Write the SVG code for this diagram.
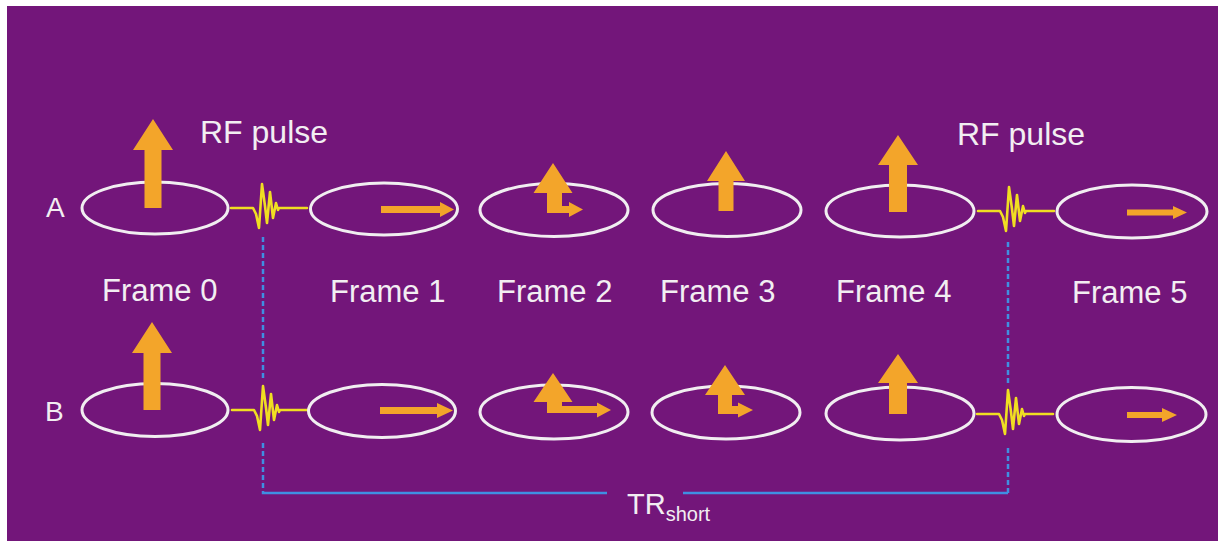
<svg xmlns="http://www.w3.org/2000/svg" width="1218" height="541" viewBox="0 0 1218 541">
  <defs>
    <style>
      .ring { fill: none; stroke: #f1eef1; stroke-width: 3; }
      .vec { fill: #f3a52a; }
      .pulse { fill: none; stroke: #f0de22; stroke-width: 2.6; stroke-linejoin: round; stroke-linecap: round; }
      .lbl { font-family: "Liberation Sans", Arial, sans-serif; fill: #f2eef2; }
      .frame { font-size: 31px; }
      .rf { font-size: 32px; }
      .row { font-size: 28px; }
      .tr { stroke: #3f8fe2; stroke-width: 2.5; fill: none; }
      .dash { stroke-dasharray: 5 3; }
    </style>
    <path id="pulse" class="pulse" d="M0,0 H22 L25,6 L28,20 L31,-24 L34,-2 L36,15 L39,-16 L42,10 L45,-5 L47,2 L48,0 H76"/>
  </defs>

  <rect x="0" y="0" width="1218" height="541" fill="#ffffff"/>
  <rect x="7" y="6" width="1211" height="535" fill="#73167a"/>

  <!-- row labels -->
  <text class="lbl row" x="46" y="217">A</text>
  <text class="lbl row" x="45" y="421">B</text>

  <!-- RF pulse labels -->
  <text class="lbl rf" x="200" y="143">RF pulse</text>
  <text class="lbl rf" x="957" y="145">RF pulse</text>

  <!-- Frame labels -->
  <g id="frame-labels">
    <text class="lbl frame" x="102" y="301">Frame 0</text>
    <text class="lbl frame" x="330" y="302">Frame 1</text>
    <text class="lbl frame" x="497" y="302">Frame 2</text>
    <text class="lbl frame" x="660" y="302">Frame 3</text>
    <text class="lbl frame" x="836" y="302">Frame 4</text>
    <text class="lbl frame" x="1072" y="303">Frame 5</text>
  </g>

  <!-- connectors: TR bracket -->
  <g id="connectors">
    <line class="tr dash" x1="263" y1="237" x2="263" y2="381"/>
    <line class="tr dash" x1="263" y1="443" x2="263" y2="492"/>
    <polyline class="tr" points="263,492 263,493 607,493"/>
    <line class="tr" x1="683" y1="493" x2="1008" y2="493"/>
    <line class="tr dash" x1="1008" y1="493" x2="1008" y2="445"/>
    <line class="tr dash" x1="1008" y1="383" x2="1008" y2="240"/>
  </g>
  <text class="lbl" x="627" y="514" font-size="29">TR<tspan font-size="20" dy="7">short</tspan></text>

  <!-- RF pulses -->
  <g id="pulse-A1"><use href="#pulse" transform="translate(231,208)"/></g>
  <g id="pulse-A2"><use href="#pulse" transform="translate(978,211)"/></g>
  <g id="pulse-B1"><use href="#pulse" transform="translate(232,410)"/></g>
  <g id="pulse-B2"><use href="#pulse" transform="translate(977,414)"/></g>

  <!-- Row A -->
  <g id="A0">
    <ellipse class="ring" cx="155" cy="208" rx="73" ry="26"/>
    <polygon class="vec" points="153,119 173,150 161.5,150 161.5,208 144.5,208 144.5,150 133,150"/>
  </g>
  <g id="A1">
    <ellipse class="ring" cx="384" cy="209" rx="73.5" ry="26"/>
    <polygon class="vec" points="381,206 440,206 440,202 454,209.5 440,217 440,213 381,213"/>
  </g>
  <g id="A2">
    <ellipse class="ring" cx="554" cy="210" rx="74" ry="26.5"/>
    <polygon class="vec" points="553,163 572.5,193 562,193 562,206 569,206 569,202 583,209.5 569,217 569,213 547,213 547,193 533.5,193"/>
  </g>
  <g id="A3">
    <ellipse class="ring" cx="727" cy="210" rx="74" ry="26.5"/>
    <polygon class="vec" points="726,151 745,181 733.5,181 733.5,211 718.5,211 718.5,181 707,181"/>
  </g>
  <g id="A4">
    <ellipse class="ring" cx="900" cy="211" rx="74" ry="26"/>
    <polygon class="vec" points="898,135 918,165 907,165 907,212 889,212 889,165 878,165"/>
  </g>
  <g id="A5">
    <ellipse class="ring" cx="1132" cy="211.5" rx="75" ry="26.5"/>
    <polygon class="vec" points="1127,209.5 1173,209.5 1173,206 1187,212.5 1173,219 1173,215.5 1127,215.5"/>
  </g>

  <!-- Row B -->
  <g id="B0">
    <ellipse class="ring" cx="155" cy="410" rx="73" ry="26.5"/>
    <polygon class="vec" points="152,322 172,353 160.5,353 160.5,410 143.5,410 143.5,353 132,353"/>
  </g>
  <g id="B1">
    <ellipse class="ring" cx="382" cy="411" rx="73.5" ry="26.5"/>
    <polygon class="vec" points="380,407 437,407 437,403 453,410.5 437,418 437,414 380,414"/>
  </g>
  <g id="B2">
    <ellipse class="ring" cx="554" cy="412" rx="74" ry="27"/>
    <polygon class="vec" points="553,373 572.5,402 562,402 562,406 597,406 597,402.5 611,410 597,417.5 597,413 547,413 547,402 533.5,402"/>
  </g>
  <g id="B3">
    <ellipse class="ring" cx="726" cy="412.5" rx="74" ry="26.5"/>
    <polygon class="vec" points="725,365 745,395 732,395 732,406 738,406 738,402.5 753,410 738,417.5 738,414 718,414 718,395 705,395"/>
  </g>
  <g id="B4">
    <ellipse class="ring" cx="900" cy="413.5" rx="74" ry="26.5"/>
    <polygon class="vec" points="898,354 918,383 907,383 907,414 889,414 889,383 878,383"/>
  </g>
  <g id="B5">
    <ellipse class="ring" cx="1131.5" cy="414.5" rx="74.5" ry="27"/>
    <polygon class="vec" points="1127,412 1162,412 1162,408 1177,415 1162,422 1162,418 1127,418"/>
  </g>
</svg>
